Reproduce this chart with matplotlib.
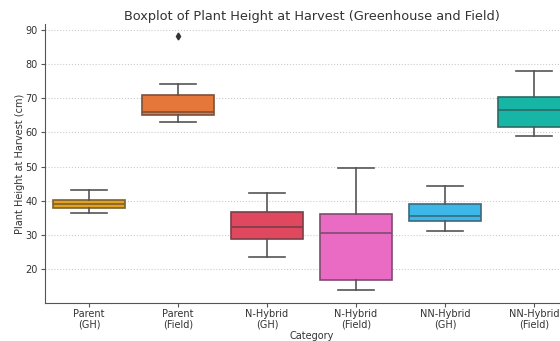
import matplotlib
matplotlib.use("Agg")
from matplotlib import pyplot as plt
from matplotlib import colors as mcolors

# داده‌ها - خوانده شده از روی تصویر
categories = ["Parent\n(GH)", "Parent\n(Field)", "N-Hybrid\n(GH)",
              "N-Hybrid\n(Field)", "NN-Hybrid\n(GH)", "NN-Hybrid\n(Field)"]
whis_low = [36.3, 63.0, 23.5, 13.8, 31.1, 59.0]
q1 = [37.9, 65.0, 28.8, 16.6, 33.9, 61.5]
median = [39.1, 66.0, 32.2, 30.6, 35.6, 66.5]
q3 = [40.3, 71.1, 36.8, 36.0, 38.9, 70.4]
whis_high = [43.2, 74.2, 42.2, 49.6, 44.3, 77.9]
fliers = [[], [88.2], [], [], [], []]

box_colors = ["#E3A21F", "#E5773A", "#E0485F", "#EA6BC3", "#3DB6E8", "#17B5A6"]

stats = []
for i in range(len(categories)):
    stats.append({
        "whislo": whis_low[i], "q1": q1[i], "med": median[i],
        "q3": q3[i], "whishi": whis_high[i], "fliers": fliers[i],
    })

fig = plt.figure(figsize=(5.6, 3.41), dpi=100)
# محور از لبه راست بیرون می‌زند (مثل تصویر اصلی)
ax = fig.add_axes([44.5 / 560, 38 / 341, 534 / 560, 279 / 341])

line_gray = "#555555"
bp = ax.bxp(stats, positions=range(len(categories)), widths=0.8,
            patch_artist=True, showfliers=True,
            whiskerprops=dict(color=line_gray, linewidth=1.2),
            capprops=dict(color=line_gray, linewidth=1.2),
            medianprops=dict(linewidth=1.2),
            flierprops=dict(marker="d", markersize=3.5,
                            markerfacecolor="#333333", markeredgecolor="#333333"))

for patch, med, c in zip(bp["boxes"], bp["medians"], box_colors):
    rgb = mcolors.to_rgb(c)
    dark = tuple(0.4 * v + 0.6 * 0.22 for v in rgb)
    patch.set_facecolor(c)
    patch.set_edgecolor(dark)
    patch.set_linewidth(1.2)
    med.set_color(dark)

ax.set_xlim(-0.5, len(categories) - 0.5)
ax.set_ylim(10, 91.8)
ax.set_yticks([20, 30, 40, 50, 60, 70, 80, 90])
ax.set_xticks(range(len(categories)))
ax.set_xticklabels(categories, fontsize=7, color="#333333", linespacing=1.0)
ax.tick_params(axis="y", labelsize=7, labelcolor="#333333", color="#555555",
               length=3, pad=2)
ax.tick_params(axis="x", color="#555555", length=3, pad=1.5)

ax.grid(axis="y", linestyle=":", color="#cccccc", linewidth=0.8)
ax.set_axisbelow(True)
for side in ["top", "right"]:
    ax.spines[side].set_visible(False)
for side in ["left", "bottom"]:
    ax.spines[side].set_color("#555555")

ax.set_title("Boxplot of Plant Height at Harvest (Greenhouse and Field)",
             fontsize=9.3, color="#333333", pad=3)
ax.set_xlabel("Category", fontsize=7, color="#333333", labelpad=1)
ax.set_ylabel("Plant Height at Harvest (cm)", fontsize=7, color="#333333", labelpad=0)

fig.savefig("out.png", dpi=100)
